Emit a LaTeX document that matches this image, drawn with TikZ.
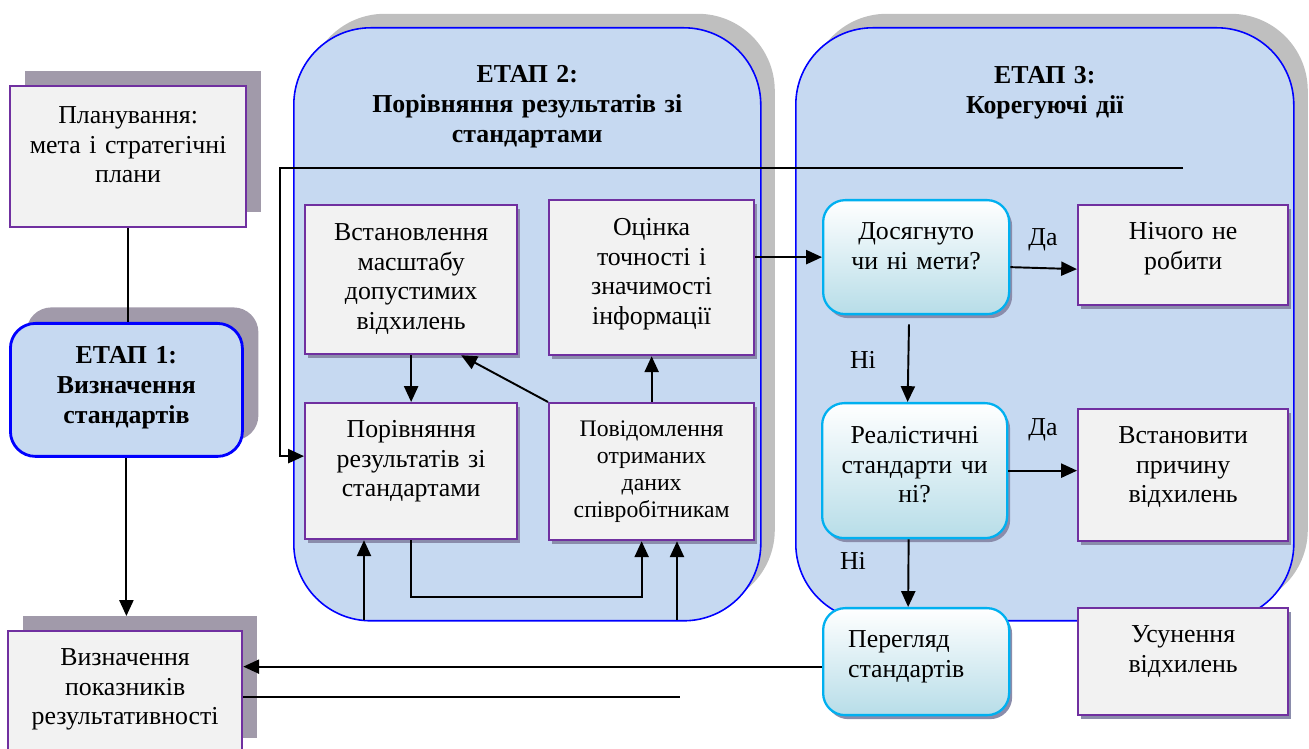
\documentclass[tikz,border=0pt]{standalone}
\usepackage{fontspec}
\setmainfont{Liberation Serif}
\usetikzlibrary{arrows.meta,shadows,calc}
\newlength\pxu
\setlength\pxu{0.02cm}
\definecolor{stagefill}{HTML}{C6D9F1}
\definecolor{stageshade}{HTML}{BFBFBF}
\definecolor{boxfill}{HTML}{F2F2F2}
\definecolor{boxline}{HTML}{7030A0}
\definecolor{outshade}{HTML}{A19AAA}
\definecolor{inshade}{HTML}{8A8CAB}
\definecolor{decline}{HTML}{00B0F0}
\definecolor{decfill}{HTML}{B7DDE8}
\tikzset{
  plainbox/.style={draw=boxline, fill=boxfill, line width=1.3pt, inner sep=0pt, anchor=north west, align=center, font=\fontsize{14.7}{17}\selectfont},
  box/.style={plainbox, general shadow={fill=inshade, shadow xshift=3\pxu, shadow yshift=-4\pxu}},
  outbox/.style={plainbox, general shadow={fill=outshade, shadow xshift=15\pxu, shadow yshift=15\pxu}},
  stagebase/.style={draw=blue, fill=stagefill, line width=0.9pt, inner sep=0pt, anchor=north west, align=center, font=\fontsize{14.7}{17}\selectfont\bfseries},
  stage/.style={stagebase, rounded corners=77\pxu, general shadow={fill=stageshade, shadow xshift=14\pxu, shadow yshift=14\pxu}},
  decision/.style={draw=decline, top color=white, bottom color=decfill, line width=1.3pt, rounded corners=22\pxu, inner sep=0pt, anchor=north west, align=center, font=\fontsize{14.7}{17}\selectfont, general shadow={fill=inshade, shadow xshift=3\pxu, shadow yshift=-4\pxu}},
  arr/.style={line width=1.1pt, -{Triangle[length=9pt,width=8pt]}},
  conn/.style={line width=1.1pt},
  lbl/.style={font=\fontsize{14.7}{17}\selectfont}
}
\begin{document}
\begin{tikzpicture}[x=0.02cm, y=-0.02cm]
    \useasboundingbox (0,0) rectangle (1309,749);
    \node[stage, text width=467\pxu, text height=55\pxu, text depth=538\pxu] (stagetwo) at (293,27) {ЕТАП 2:\\Порівняння результатів зі\\стандартами};
    \node[stage, text width=498\pxu, text height=56\pxu, text depth=537\pxu] (stagethree) at (795,27) {ЕТАП 3:\\Корегуючі дії};
    \node[outbox, text width=236\pxu, text height=37\pxu, text depth=104\pxu] (plan) at (9,85) {Планування:\\мета і стратегічні\\плани};
    \node[stagebase, rounded corners=25\pxu, line width=1.6pt, general shadow={fill=outshade, shadow xshift=16\pxu, shadow yshift=16\pxu}, text width=232\pxu, text height=40\pxu, text depth=93\pxu] (stageone) at (9,322) {ЕТАП 1:\\Визначення\\стандартів};
    \node[outbox, text width=234\pxu, text height=34\pxu, text depth=88\pxu] (kpi) at (7,630) {Визначення\\показників\\результативності};
    \node[box, text width=212\pxu, text height=35\pxu, text depth=114\pxu] (scale) at (304,204) {Встановлення\\масштабу\\допустимих\\відхилень};
    \node[box, text width=205\pxu, text height=35\pxu, text depth=120\pxu] (eval) at (548,199) {Оцінка\\точності і\\значимості\\інформації};
    \node[box, text width=212\pxu, text height=34\pxu, text depth=102\pxu] (cmp) at (304,402) {Порівняння\\результатів зі\\стандартами};
    \node[box, font=\fontsize{13.5}{15.5}\selectfont, text width=205\pxu, text height=33\pxu, text depth=104\pxu] (msg) at (548,402) {Повідомлення\\отриманих\\даних\\співробітникам};
    \node[decision, text width=186\pxu, text height=39\pxu, text depth=75\pxu] (goal) at (822,199) {Досягнуто\\чи ні мети?};
    \node[box, text width=210\pxu, text height=34\pxu, text depth=66\pxu] (none) at (1077,204) {Нічого не\\робити};
    \node[decision, text width=185\pxu, text height=40\pxu, text depth=95\pxu] (real) at (821,402) {Реалістичні\\стандарти чи\\ні?};
    \node[box, text width=210\pxu, text height=34\pxu, text depth=98\pxu] (cause) at (1077,408) {Встановити\\причину\\відхилень};
    \node[decision, align=left, inner xsep=25\pxu, text width=136\pxu, text height=39\pxu, text depth=68\pxu] (review) at (822,607) {Перегляд\\стандартів};
    \node[box, text width=210\pxu, text height=34\pxu, text depth=73\pxu] (fix) at (1077,607) {Усунення\\відхилень};
    \node[lbl] (yesgoal) at (1043,240) {Да};
    \node[lbl] (nogoal) at (863,360) {Ні};
    \node[lbl] (yesreal) at (1043,430) {Да};
    \node[lbl] (noreal) at (853,561) {Ні};
    \coordinate (topend) at (1183,168);
    \coordinate (loopcorner) at (280,168);
    \coordinate (inleft) at (364,620);
    \coordinate (inright) at (677,620);
    \coordinate (lowend) at (680,697);
    \draw[conn] (plan.south) -- (plan.south |- stageone.north);
    \draw[arr, shorten >=14\pxu] (stageone.south) -- (stageone.south |- kpi.north);
    \draw[arr] (topend) -- (loopcorner) |- ([yshift=15\pxu]cmp.west);
    \draw[arr] (scale.south) -- (cmp.north);
    \draw[arr] (msg.north west) -- ([xshift=50\pxu]scale.south);
    \draw[arr] (msg.north) -- (eval.south);
    \draw[arr] (cmp.south) -- ++(0,57) -| ([xshift=-10\pxu]msg.south);
    \draw[arr] (inleft) -- (inleft |- cmp.south);
    \draw[arr] (inright) -- (inright |- msg.south);
    \draw[arr] (eval.east |- goal.west) -- (goal.west);
    \draw[arr] ([yshift=-10\pxu]goal.east) -- ([yshift=-14\pxu]none.west);
    \draw[arr, shorten <=9\pxu] ([xshift=-7\pxu]goal.south) -- ([xshift=-7\pxu]real.north);
    \draw[arr] (real.east) -- (real.east -| cause.west);
    \draw[arr] ([xshift=-6\pxu]real.south) -- ([xshift=-8\pxu]review.north);
    \draw[arr] ([yshift=-5\pxu]review.west) -- ([yshift=-5\pxu]review.west -| kpi.east);
    \draw[conn] (kpi.east |- lowend) -- (lowend);
\end{tikzpicture}
\end{document}
